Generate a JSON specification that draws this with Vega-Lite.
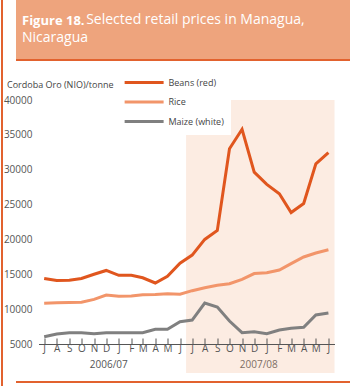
{
  "$schema": "https://vega.github.io/schema/vega-lite/v6.json",
  "padding": {"left": 1, "top": 0, "right": 0, "bottom": 0},
  "background": "white",
  "config": {"view": {"stroke": null}, "font": "Open Sans", "concat": {"spacing": 0}},
  "datasets": {
    "prices": [
      {"month": "2006-07-01", "commodity": "Beans (red)", "price": 14400},
      {"month": "2006-08-01", "commodity": "Beans (red)", "price": 14100},
      {"month": "2006-09-01", "commodity": "Beans (red)", "price": 14150},
      {"month": "2006-10-01", "commodity": "Beans (red)", "price": 14400},
      {"month": "2006-11-01", "commodity": "Beans (red)", "price": 15000},
      {"month": "2006-12-01", "commodity": "Beans (red)", "price": 15550},
      {"month": "2007-01-01", "commodity": "Beans (red)", "price": 14850},
      {"month": "2007-02-01", "commodity": "Beans (red)", "price": 14850},
      {"month": "2007-03-01", "commodity": "Beans (red)", "price": 14500},
      {"month": "2007-04-01", "commodity": "Beans (red)", "price": 13750},
      {"month": "2007-05-01", "commodity": "Beans (red)", "price": 14700},
      {"month": "2007-06-01", "commodity": "Beans (red)", "price": 16600},
      {"month": "2007-07-01", "commodity": "Beans (red)", "price": 17750},
      {"month": "2007-08-01", "commodity": "Beans (red)", "price": 20000},
      {"month": "2007-09-01", "commodity": "Beans (red)", "price": 21300},
      {"month": "2007-10-01", "commodity": "Beans (red)", "price": 33000},
      {"month": "2007-11-01", "commodity": "Beans (red)", "price": 35800},
      {"month": "2007-12-01", "commodity": "Beans (red)", "price": 29650},
      {"month": "2008-01-01", "commodity": "Beans (red)", "price": 27900},
      {"month": "2008-02-01", "commodity": "Beans (red)", "price": 26550},
      {"month": "2008-03-01", "commodity": "Beans (red)", "price": 23850},
      {"month": "2008-04-01", "commodity": "Beans (red)", "price": 25150},
      {"month": "2008-05-01", "commodity": "Beans (red)", "price": 30850},
      {"month": "2008-06-01", "commodity": "Beans (red)", "price": 32450},
      {"month": "2006-07-01", "commodity": "Rice", "price": 10850},
      {"month": "2006-08-01", "commodity": "Rice", "price": 10900},
      {"month": "2006-09-01", "commodity": "Rice", "price": 10950},
      {"month": "2006-10-01", "commodity": "Rice", "price": 10980},
      {"month": "2006-11-01", "commodity": "Rice", "price": 11400},
      {"month": "2006-12-01", "commodity": "Rice", "price": 12030},
      {"month": "2007-01-01", "commodity": "Rice", "price": 11850},
      {"month": "2007-02-01", "commodity": "Rice", "price": 11880},
      {"month": "2007-03-01", "commodity": "Rice", "price": 12070},
      {"month": "2007-04-01", "commodity": "Rice", "price": 12100},
      {"month": "2007-05-01", "commodity": "Rice", "price": 12220},
      {"month": "2007-06-01", "commodity": "Rice", "price": 12130},
      {"month": "2007-07-01", "commodity": "Rice", "price": 12650},
      {"month": "2007-08-01", "commodity": "Rice", "price": 13080},
      {"month": "2007-09-01", "commodity": "Rice", "price": 13420},
      {"month": "2007-10-01", "commodity": "Rice", "price": 13650},
      {"month": "2007-11-01", "commodity": "Rice", "price": 14280},
      {"month": "2007-12-01", "commodity": "Rice", "price": 15100},
      {"month": "2008-01-01", "commodity": "Rice", "price": 15230},
      {"month": "2008-02-01", "commodity": "Rice", "price": 15620},
      {"month": "2008-03-01", "commodity": "Rice", "price": 16520},
      {"month": "2008-04-01", "commodity": "Rice", "price": 17480},
      {"month": "2008-05-01", "commodity": "Rice", "price": 18050},
      {"month": "2008-06-01", "commodity": "Rice", "price": 18530},
      {"month": "2006-07-01", "commodity": "Maize (white)", "price": 6050},
      {"month": "2006-08-01", "commodity": "Maize (white)", "price": 6430},
      {"month": "2006-09-01", "commodity": "Maize (white)", "price": 6620},
      {"month": "2006-10-01", "commodity": "Maize (white)", "price": 6620},
      {"month": "2006-11-01", "commodity": "Maize (white)", "price": 6480},
      {"month": "2006-12-01", "commodity": "Maize (white)", "price": 6620},
      {"month": "2007-01-01", "commodity": "Maize (white)", "price": 6620},
      {"month": "2007-02-01", "commodity": "Maize (white)", "price": 6620},
      {"month": "2007-03-01", "commodity": "Maize (white)", "price": 6620},
      {"month": "2007-04-01", "commodity": "Maize (white)", "price": 7100},
      {"month": "2007-05-01", "commodity": "Maize (white)", "price": 7100},
      {"month": "2007-06-01", "commodity": "Maize (white)", "price": 8200},
      {"month": "2007-07-01", "commodity": "Maize (white)", "price": 8440},
      {"month": "2007-08-01", "commodity": "Maize (white)", "price": 10880},
      {"month": "2007-09-01", "commodity": "Maize (white)", "price": 10310},
      {"month": "2007-10-01", "commodity": "Maize (white)", "price": 8300},
      {"month": "2007-11-01", "commodity": "Maize (white)", "price": 6620},
      {"month": "2007-12-01", "commodity": "Maize (white)", "price": 6760},
      {"month": "2008-01-01", "commodity": "Maize (white)", "price": 6480},
      {"month": "2008-02-01", "commodity": "Maize (white)", "price": 7010},
      {"month": "2008-03-01", "commodity": "Maize (white)", "price": 7250},
      {"month": "2008-04-01", "commodity": "Maize (white)", "price": 7400},
      {"month": "2008-05-01", "commodity": "Maize (white)", "price": 9160},
      {"month": "2008-06-01", "commodity": "Maize (white)", "price": 9450}
    ],
    "season": [{"season": "2007/08", "start": "2007-06-16", "end": "2008-06-16"}]
  },
  "hconcat": [
    {"width": 2, "height": 386, "view": {"fill": "#e2622e", "stroke": null}, "data": {"values": []}, "mark": "rule", "encoding": {}},
    {
      "spacing": 19,
      "center": true,
      "vconcat": [
        {
          "spacing": 0,
          "vconcat": [
            {
              "width": 341, "height": 59,
              "view": {"fill": "#eea47d", "stroke": null},
              "data": {"values": []}, "mark": "rule", "encoding": {},
              "title": {
                "text": "Figure 18.",
                "subtitle": ["\u200b\u00a0\u00a0\u00a0\u00a0\u00a0\u00a0\u00a0\u00a0\u00a0\u00a0\u00a0\u00a0\u00a0\u00a0\u00a0\u00a0\u00a0\u2009Selected retail prices in Managua,", "Nicaragua"],
                "anchor": "start", "frame": "group", "orient": "top",
                "offset": -47, "dx": 6,
                "font": "Open Sans", "fontSize": 13, "fontWeight": "bold", "color": "white",
                "subtitleFont": "Open Sans", "subtitleFontSize": 14, "subtitleFontWeight": "normal",
                "subtitleColor": "white", "subtitleLineHeight": 18, "subtitlePadding": -15
              }
            },
            {"width": 341, "height": 2, "view": {"fill": "#e2622e", "stroke": null}, "data": {"values": []}, "mark": "rule", "encoding": {}}
          ]
        },
        {
          "spacing": 8,
          "center": true,
          "vconcat": [
            {
              "width": 296, "height": 244,
              "layer": [
                {
                  "data": {"name": "season"},
                  "mark": {"type": "rect", "fill": "#f2b48a", "opacity": 0.25, "y2Offset": 29},
                  "encoding": {
                    "x": {"field": "start", "type": "temporal", "title": null,
                      "scale": {"type": "utc", "domain": [{"year": 2006, "month": 6, "date": 17, "utc": true}, {"year": 2008, "month": 6, "date": 16, "utc": true}]},
                      "axis": {"orient": "bottom", "values": [{"year": 2006, "month": 12, "date": 6, "utc": true}, {"year": 2007, "month": 12, "date": 11, "utc": true}],
                        "labelExpr": "utcyear(datum.value) == 2006 ? '2006/07' : '2007/08'",
                        "domain": false, "ticks": false, "grid": false, "labelPadding": 15.5,
                        "labelFontSize": 10, "labelColor": "#555555", "labelFlush": false, "labelOverlap": false}},
                    "x2": {"field": "end"},
                    "y": {"datum": 40000, "type": "quantitative",
                      "scale": {"domain": [5000, 40000], "nice": false, "zero": false},
                      "axis": {"values": [5000, 10000, 15000, 20000, 25000, 30000, 35000, 40000],
                        "format": "d", "labelOverlap": false,
                        "title": "Cordoba Oro (NIO)/tonne", "titleAngle": 0, "titleX": -32, "titleY": -12.5,
                        "titleAlign": "left", "titleBaseline": "alphabetic", "titleFontWeight": "normal",
                        "titleFontSize": 9, "titleColor": "#444444",
                        "domain": false, "ticks": false, "labelPadding": 6.5, "labelFontSize": 10, "labelColor": "#555555",
                        "gridColor": "#b0aaa5", "gridWidth": 1}},
                    "y2": {"datum": 5000}
                  }
                },
                {
                  "data": {"name": "prices"},
                  "mark": {"type": "line", "strokeWidth": 3},
                  "encoding": {
                    "x": {"field": "month", "type": "temporal", "title": null,
                      "scale": {"type": "utc", "domain": [{"year": 2006, "month": 6, "date": 17, "utc": true}, {"year": 2008, "month": 6, "date": 16, "utc": true}]},
                      "axis": {"orient": "bottom", "tickCount": {"interval": "month", "step": 1},
                        "labelExpr": "slice(utcFormat(datum.value, '%B'), 0, 1)",
                        "grid": false, "domainColor": "#555555", "tickColor": "#555555", "tickSize": -6,
                        "labelPadding": 5.5, "labelFontSize": 10, "labelColor": "#555555",
                        "labelFlush": false, "labelOverlap": false, "zindex": 1}},
                    "y": {"field": "price", "type": "quantitative",
                      "scale": {"domain": [5000, 40000], "nice": false, "zero": false},
                      "axis": {"values": [5000, 10000, 15000, 20000, 25000, 30000, 35000, 40000],
                        "format": "d", "labelOverlap": false,
                        "title": "Cordoba Oro (NIO)/tonne", "titleAngle": 0, "titleX": -32, "titleY": -12.5,
                        "titleAlign": "left", "titleBaseline": "alphabetic", "titleFontWeight": "normal",
                        "titleFontSize": 9, "titleColor": "#444444",
                        "domain": false, "ticks": false, "labelPadding": 6.5, "labelFontSize": 10, "labelColor": "#555555",
                        "gridColor": "#b0aaa5", "gridWidth": 1}},
                    "color": {"field": "commodity", "type": "nominal",
                      "scale": {"domain": ["Beans (red)", "Rice", "Maize (white)"], "range": ["#e0561e", "#f2956a", "#808080"]},
                      "legend": {"orient": "none", "legendX": 115, "legendY": 69, "title": null,
                        "symbolType": "M-1,0H7", "symbolSize": 95, "symbolStrokeWidth": 3,
                        "labelOffset": 32.5, "labelFontSize": 9, "labelColor": "#444444",
                        "rowPadding": 6.5, "fillColor": "white", "padding": 7}}
                  }
                }
              ],
              "resolve": {"axis": {"x": "independent"}}
            },
            {"width": 341, "height": 2, "view": {"fill": "#e2622e", "stroke": null}, "data": {"values": []}, "mark": "rule", "encoding": {}}
          ]
        }
      ]
    },
    {"width": 2, "height": 386, "view": {"fill": "#e2622e", "stroke": null}, "data": {"values": []}, "mark": "rule", "encoding": {}}
  ]
}
